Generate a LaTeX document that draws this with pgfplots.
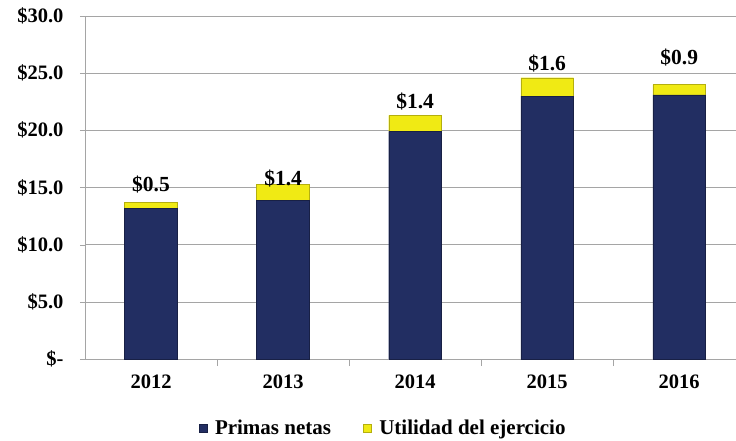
\documentclass[border=0pt]{standalone}
\usepackage{pgfplots}
\pgfplotsset{compat=1.18}
\usepackage{fontspec}
\setmainfont{Liberation Serif}
\definecolor{navy}{RGB}{34,46,98}
\definecolor{yel}{RGB}{240,234,20}
\definecolor{gridc}{RGB}{165,165,165}
\pgfplotstableread{
x y
0 13.2
1 13.9
2 19.9
3 23.0
4 23.1
}\primas
\pgfplotstableread{
x y lab off
0 0.5 0.5 21
1 1.4 1.4 14
2 1.4 1.4 22
3 1.6 1.6 23
4 0.9 0.9 32
}\utilidad
\begin{document}
\begin{tikzpicture}
\begin{axis}[
  scale only axis, width=651pt, height=343pt,
  ybar stacked, bar width=0.4,
  xmin=-0.5, xmax=4.43, ymin=0, ymax=30,
  axis lines*=left,
  axis line style={gridc},
  xtick={0,1,2,3,4},
  xticklabels={2012,2013,2014,2015,2016},
  major x tick style={draw=none},
  minor xtick={0.5,1.5,2.5,3.5},
  minor x tick style={gridc},
  minor tick length=7pt,
  major tick length=5pt,
  tick align=outside,
  ytick={0,5,10,15,20,25,30},
  yticklabels={\$-,\$5.0,\$10.0,\$15.0,\$20.0,\$25.0,\$30.0},
  y tick style={gridc},
  ymajorgrids, grid style={gridc},
  ticklabel style={font=\fontsize{20.5}{24}\selectfont\bfseries},
  xticklabel style={yshift=-7pt},
  yticklabel style={xshift=-13pt},
  legend style={at={(0.458,-0.201)}, anchor=center, draw=none, legend columns=2,
    font=\fontsize{21}{24}\selectfont\bfseries,
    /tikz/every even column/.append style={column sep=30pt}},
  legend image code/.code={\draw[#1] (0pt,-4pt) rectangle (8pt,4pt); \path[draw=none,fill=none] (0pt,0pt) -- (14pt,0pt);},
]
\addplot[fill=navy, draw=navy!70!black] table[x=x,y=y] {\primas};
\addlegendentry{Primas netas}
\addplot[fill=yel, draw=yel!75!black,
  nodes near coords={\$\pgfplotspointmeta},
  point meta=explicit symbolic,
  visualization depends on={\thisrow{off}\as\off},
  every node near coord/.append style={anchor=center, yshift=\off pt, black,
    font=\fontsize{21.5}{24}\selectfont\bfseries}]
  table[x=x,y=y,meta=lab] {\utilidad};
\addlegendentry{Utilidad del ejercicio}
\end{axis}
\pgfresetboundingbox
\path (current axis.south west) ++(-85pt,-81pt) rectangle ++(736pt,440pt);
\end{tikzpicture}
\end{document}
